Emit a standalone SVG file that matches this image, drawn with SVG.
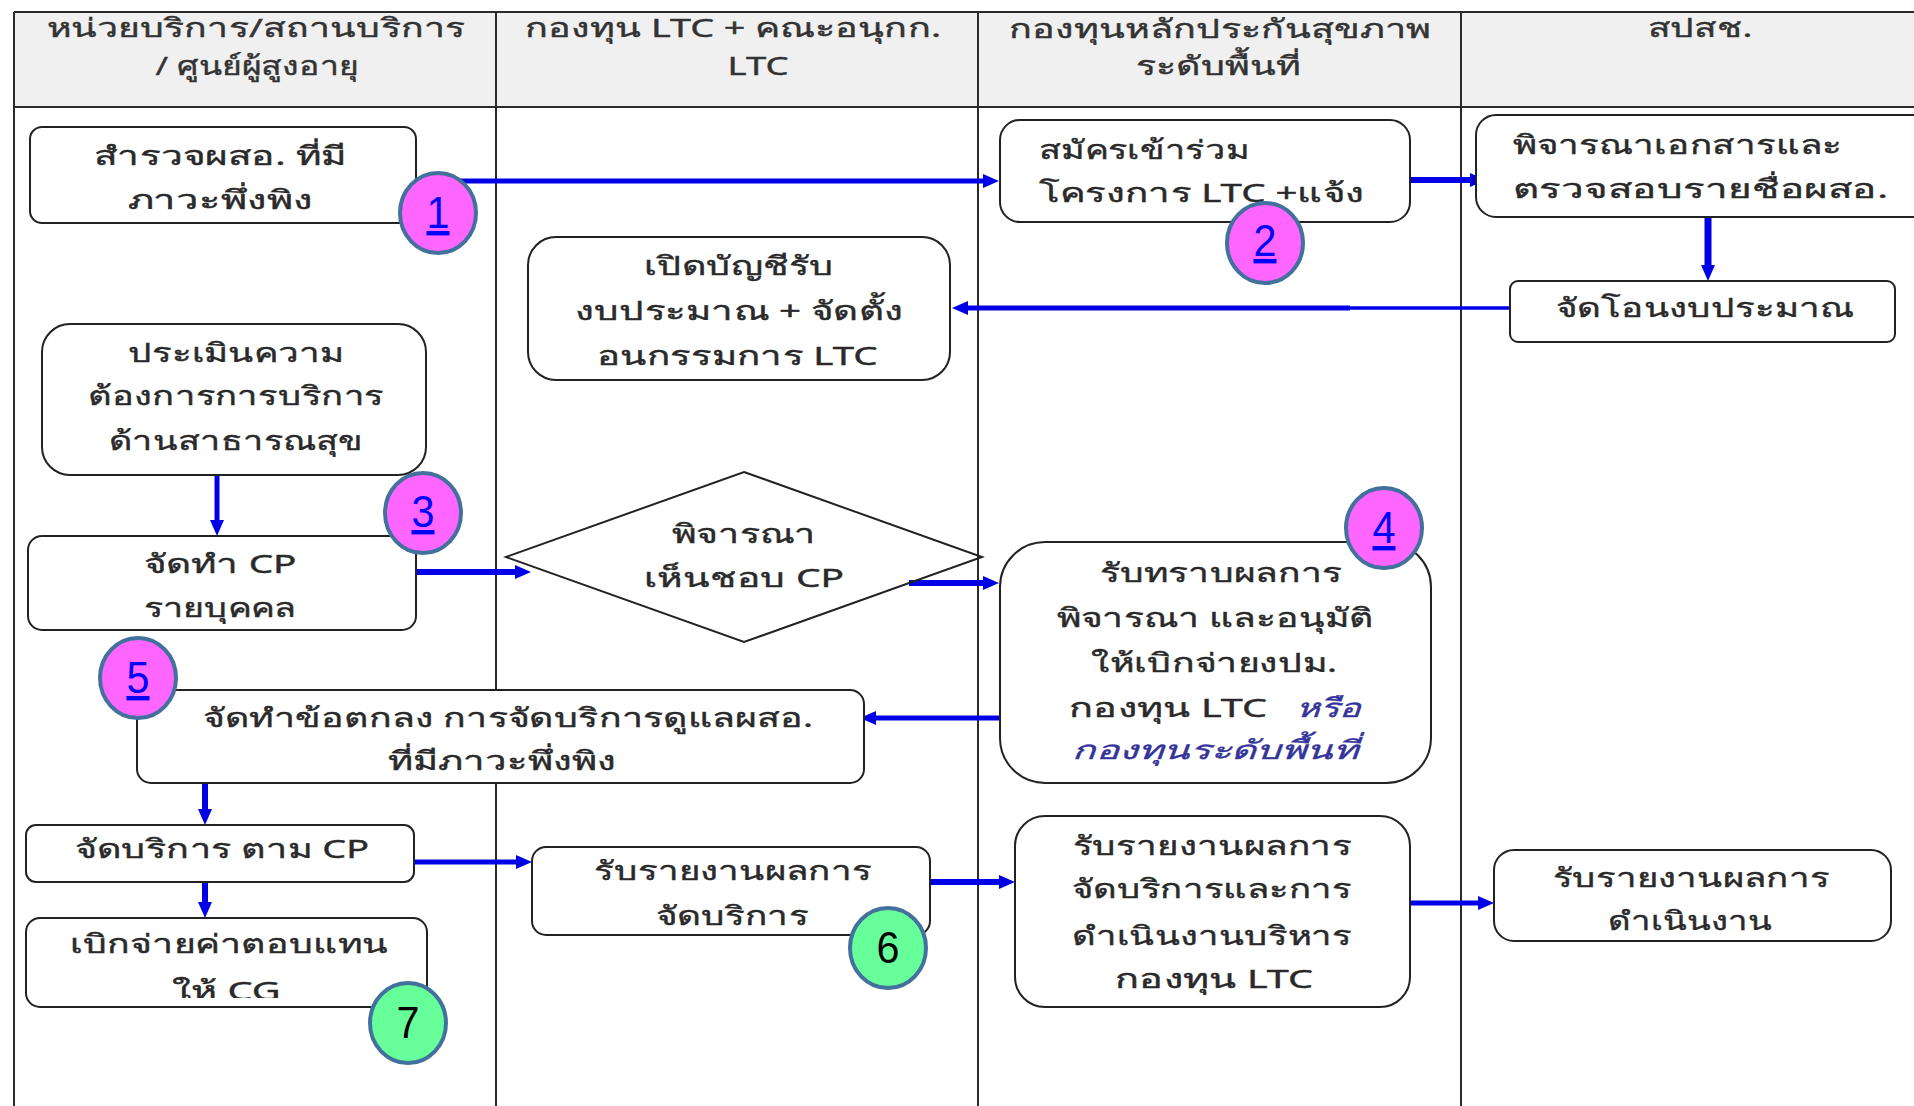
<svg xmlns="http://www.w3.org/2000/svg" width="1914" height="1106" viewBox="0 0 1914 1106">
<style>
.grid{stroke:#2a2a2a;stroke-width:2;fill:none}
.hdr{font-family:"Noto Sans","DejaVu Sans",sans-serif;font-size:26px;fill:#333;stroke:#333;stroke-width:0.4;text-anchor:middle}
.box{fill:#fff;stroke:#222;stroke-width:2}
.t{font-family:"Noto Sans","DejaVu Sans",sans-serif;font-size:26px;fill:#2a2a2a;stroke:#2a2a2a;stroke-width:0.4;text-anchor:middle}
.ts{font-family:"Noto Sans","DejaVu Sans",sans-serif;font-size:26px;fill:#2a2a2a;stroke:#2a2a2a;stroke-width:0.4;text-anchor:start}
.it{font-style:italic;fill:#33339a;stroke:#33339a}
.con{stroke:#0000e6;stroke-width:5;fill:none}
.badge{stroke:#41719c;stroke-width:4}
.pink{fill:#ff66ff}
.green{fill:#66ff99}
.num{font-family:"Liberation Sans",Arial,sans-serif;font-size:44px;text-anchor:middle}
.numl{fill:#0000ff;text-decoration:underline}
.numd{fill:#000}
</style>
<defs>
<marker id="arr" markerUnits="userSpaceOnUse" markerWidth="16" markerHeight="14" refX="6" refY="7" orient="auto">
<path d="M0,0 L16,7 L0,14 z" fill="#0000e6"/>
</marker>
<clipPath id="clipL"><rect x="0" y="900" width="500" height="98"/></clipPath>
</defs>
<rect width="1914" height="1106" fill="#fff"/>
<g id="table">
<rect x="14" y="12" width="1900" height="95" fill="#f0f0f0"/>
<line class="grid" x1="14" y1="12" x2="1914" y2="12"/>
<line class="grid" x1="14" y1="107" x2="1914" y2="107"/>
<line class="grid" x1="14" y1="12" x2="14" y2="1106"/>
<line class="grid" x1="496" y1="12" x2="496" y2="1106"/>
<line class="grid" x1="978" y1="12" x2="978" y2="1106"/>
<line class="grid" x1="1461" y1="12" x2="1461" y2="1106"/>
<text class="hdr" x="256" y="37" textLength="419" lengthAdjust="spacingAndGlyphs">หน่วยบริการ/สถานบริการ</text>
<text class="hdr" x="257" y="75" textLength="203" lengthAdjust="spacingAndGlyphs">/ ศูนย์ผู้สูงอายุ</text>
<text class="hdr" x="733" y="37" textLength="416" lengthAdjust="spacingAndGlyphs">กองทุน LTC + คณะอนุกก.</text>
<text class="hdr" x="758" y="75" textLength="61" lengthAdjust="spacingAndGlyphs">LTC</text>
<text class="hdr" x="1220" y="38" textLength="422" lengthAdjust="spacingAndGlyphs">กองทุนหลักประกันสุขภาพ</text>
<text class="hdr" x="1218" y="75" textLength="165" lengthAdjust="spacingAndGlyphs">ระดับพื้นที่</text>
<text class="hdr" x="1700" y="37" textLength="105" lengthAdjust="spacingAndGlyphs">สปสช.</text>
</g>
<g id="connectors">
<line class="con" x1="416" y1="181" x2="989" y2="181" marker-end="url(#arr)"/>
<line class="con" x1="1390" y1="180" x2="1476" y2="180" marker-end="url(#arr)" style="stroke-width:6"/>
<line class="con" x1="1708" y1="217" x2="1708" y2="271" marker-end="url(#arr)" style="stroke-width:7"/>
<line class="con" x1="1529" y1="308" x2="1349" y2="308" style="stroke-width:3.5"/>
<line class="con" x1="1350" y1="308" x2="962" y2="308" marker-end="url(#arr)"/>
<line class="con" x1="217" y1="475" x2="217" y2="526" marker-end="url(#arr)"/>
<line class="con" x1="416" y1="572" x2="521" y2="572" marker-end="url(#arr)" style="stroke-width:6"/>
<line class="con" x1="909" y1="583" x2="989" y2="583" marker-end="url(#arr)" style="stroke-width:6"/>
<line class="con" x1="1000" y1="718" x2="870" y2="718" marker-end="url(#arr)"/>
<line class="con" x1="205" y1="783" x2="205" y2="815" marker-end="url(#arr)" style="stroke-width:6"/>
<line class="con" x1="205" y1="882" x2="205" y2="908" marker-end="url(#arr)" style="stroke-width:6"/>
<line class="con" x1="414" y1="862" x2="522" y2="862" marker-end="url(#arr)"/>
<line class="con" x1="930" y1="882" x2="1005" y2="882" marker-end="url(#arr)" style="stroke-width:6"/>
<line class="con" x1="1410" y1="903" x2="1484" y2="903" marker-end="url(#arr)"/>
</g>
<g id="nodeA">
<rect class="box" x="30" y="127" width="386" height="96" rx="12"/>
<text class="t" x="220" y="165" textLength="253" lengthAdjust="spacingAndGlyphs">สำรวจผสอ. ที่มี</text>
<text class="t" x="220" y="209" textLength="185" lengthAdjust="spacingAndGlyphs">ภาวะพึ่งพิง</text>
</g>
<g id="nodeB">
<rect class="box" x="1000" y="120" width="410" height="102" rx="20"/>
<text class="ts" x="1039" y="159" textLength="210" lengthAdjust="spacingAndGlyphs">สมัครเข้าร่วม</text>
<text class="ts" x="1039" y="202" textLength="325" lengthAdjust="spacingAndGlyphs">โครงการ LTC +แจ้ง</text>
</g>
<g id="nodeC">
<rect class="box" x="1476" y="115" width="460" height="102" rx="20"/>
<text class="ts" x="1513" y="154" textLength="329" lengthAdjust="spacingAndGlyphs">พิจารณาเอกสารและ</text>
<text class="ts" x="1513" y="198" textLength="375" lengthAdjust="spacingAndGlyphs">ตรวจสอบรายชื่อผสอ.</text>
</g>
<g id="nodeD">
<rect class="box" x="1510" y="281" width="385" height="61" rx="8"/>
<text class="t" x="1705" y="317" textLength="298" lengthAdjust="spacingAndGlyphs">จัดโอนงบประมาณ</text>
</g>
<g id="nodeE">
<rect class="box" x="528" y="237" width="422" height="143" rx="28"/>
<text class="t" x="739" y="275" textLength="190" lengthAdjust="spacingAndGlyphs">เปิดบัญชีรับ</text>
<text class="t" x="739" y="320" textLength="328" lengthAdjust="spacingAndGlyphs">งบประมาณ + จัดตั้ง</text>
<text class="t" x="737" y="365" textLength="281" lengthAdjust="spacingAndGlyphs">อนกรรมการ LTC</text>
</g>
<g id="nodeF">
<rect class="box" x="42" y="324" width="384" height="151" rx="28"/>
<text class="t" x="236" y="362" textLength="216" lengthAdjust="spacingAndGlyphs">ประเมินความ</text>
<text class="t" x="236" y="405" textLength="296" lengthAdjust="spacingAndGlyphs">ต้องการการบริการ</text>
<text class="t" x="236" y="450" textLength="254" lengthAdjust="spacingAndGlyphs">ด้านสาธารณสุข</text>
</g>
<g id="nodeG">
<rect class="box" x="28" y="536" width="388" height="94" rx="14"/>
<text class="t" x="220" y="573" textLength="153" lengthAdjust="spacingAndGlyphs">จัดทำ CP</text>
<text class="t" x="220" y="617" textLength="153" lengthAdjust="spacingAndGlyphs">รายบุคคล</text>
</g>
<g id="nodeH">
<polygon class="box" points="744,472 982,557 744,642 506,557" style="fill:none"/>
<text class="t" x="744" y="543" textLength="144" lengthAdjust="spacingAndGlyphs">พิจารณา</text>
<text class="t" x="744" y="587" textLength="200" lengthAdjust="spacingAndGlyphs">เห็นชอบ CP</text>
</g>
<g id="nodeI">
<rect class="box" x="1000" y="542" width="431" height="241" rx="45"/>
<text class="t" x="1221" y="582" textLength="243" lengthAdjust="spacingAndGlyphs">รับทราบผลการ</text>
<text class="t" x="1215" y="627" textLength="317" lengthAdjust="spacingAndGlyphs">พิจารณา และอนุมัติ</text>
<text class="t" x="1214" y="672" textLength="246" lengthAdjust="spacingAndGlyphs">ให้เบิกจ่ายงปม.</text>
<text class="ts" x="1069" y="717" textLength="198" lengthAdjust="spacingAndGlyphs">กองทุน LTC</text>
<text class="ts it" x="1296" y="717" textLength="65" lengthAdjust="spacingAndGlyphs">หรือ</text>
<text class="ts it" x="1072" y="759" textLength="286" lengthAdjust="spacingAndGlyphs">กองทุนระดับพื้นที่</text>
</g>
<g id="nodeJ">
<rect class="box" x="137" y="690" width="727" height="93" rx="14"/>
<text class="t" x="508" y="727" textLength="610" lengthAdjust="spacingAndGlyphs">จัดทำข้อตกลง การจัดบริการดูแลผสอ.</text>
<text class="t" x="502" y="770" textLength="228" lengthAdjust="spacingAndGlyphs">ที่มีภาวะพึ่งพิง</text>
</g>
<g id="nodeK">
<rect class="box" x="26" y="825" width="388" height="57" rx="10"/>
<text class="t" x="222" y="858" textLength="294" lengthAdjust="spacingAndGlyphs">จัดบริการ ตาม CP</text>
</g>
<g id="nodeL">
<rect class="box" x="26" y="918" width="401" height="89" rx="14"/>
<text class="t" x="229" y="953" textLength="318" lengthAdjust="spacingAndGlyphs">เบิกจ่ายค่าตอบแทน</text>
<text class="t" x="226" y="1000" textLength="109" lengthAdjust="spacingAndGlyphs" clip-path="url(#clipL)">ให้ CG</text>
</g>
<g id="nodeM">
<rect class="box" x="532" y="847" width="398" height="88" rx="14"/>
<text class="t" x="733" y="880" textLength="278" lengthAdjust="spacingAndGlyphs">รับรายงานผลการ</text>
<text class="t" x="732" y="925" textLength="153" lengthAdjust="spacingAndGlyphs">จัดบริการ</text>
</g>
<g id="nodeN">
<rect class="box" x="1015" y="816" width="395" height="191" rx="30"/>
<text class="t" x="1212" y="855" textLength="279" lengthAdjust="spacingAndGlyphs">รับรายงานผลการ</text>
<text class="t" x="1212" y="898" textLength="280" lengthAdjust="spacingAndGlyphs">จัดบริการและการ</text>
<text class="t" x="1212" y="945" textLength="280" lengthAdjust="spacingAndGlyphs">ดำเนินงานบริหาร</text>
<text class="t" x="1214" y="988" textLength="198" lengthAdjust="spacingAndGlyphs">กองทุน LTC</text>
</g>
<g id="nodeO">
<rect class="box" x="1494" y="850" width="397" height="91" rx="20"/>
<text class="t" x="1691" y="887" textLength="277" lengthAdjust="spacingAndGlyphs">รับรายงานผลการ</text>
<text class="t" x="1690" y="930" textLength="164" lengthAdjust="spacingAndGlyphs">ดำเนินงาน</text>
</g>
<g id="badge1"><ellipse class="badge pink" cx="438" cy="213" rx="38" ry="40"/><text class="num numl" x="438" y="228" textLength="23" lengthAdjust="spacingAndGlyphs">1</text></g>
<g id="badge2"><ellipse class="badge pink" cx="1265" cy="243" rx="38" ry="40"/><text class="num numl" x="1265" y="256" textLength="23" lengthAdjust="spacingAndGlyphs">2</text></g>
<g id="badge3"><ellipse class="badge pink" cx="423" cy="513" rx="38" ry="40"/><text class="num numl" x="423" y="527" textLength="23" lengthAdjust="spacingAndGlyphs">3</text></g>
<g id="badge4"><ellipse class="badge pink" cx="1384" cy="528" rx="38" ry="40"/><text class="num numl" x="1384" y="543" textLength="23" lengthAdjust="spacingAndGlyphs">4</text></g>
<g id="badge5"><ellipse class="badge pink" cx="138" cy="678" rx="38" ry="40"/><text class="num numl" x="138" y="693" textLength="23" lengthAdjust="spacingAndGlyphs">5</text></g>
<g id="badge6"><ellipse class="badge green" cx="888" cy="948" rx="38" ry="40"/><text class="num numd" x="888" y="963" textLength="23" lengthAdjust="spacingAndGlyphs">6</text></g>
<g id="badge7"><ellipse class="badge green" cx="408" cy="1023" rx="38" ry="40"/><text class="num numd" x="408" y="1038" textLength="23" lengthAdjust="spacingAndGlyphs">7</text></g>
</svg>
